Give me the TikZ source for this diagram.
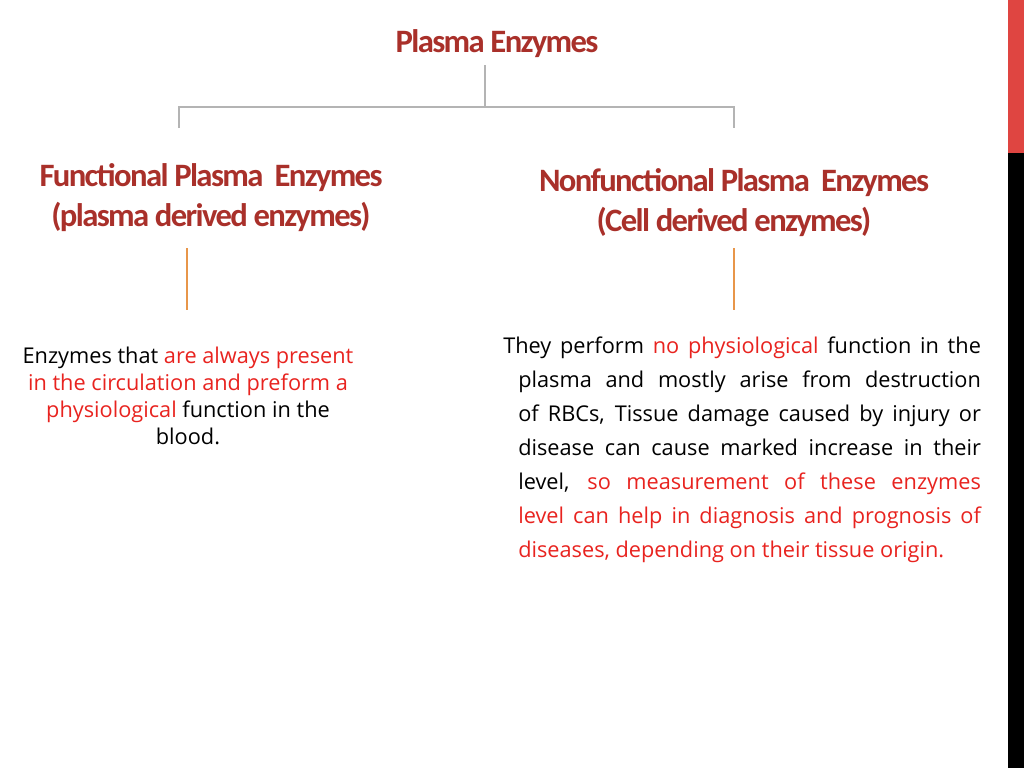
\documentclass[tikz,border=0pt]{standalone}
\usepackage{fontspec}
\setmainfont{Open Sans}
\newfontfamily\headfont[LetterSpace=-5]{Carlito}
\definecolor{hred}{HTML}{A9302A}
\definecolor{tred}{HTML}{E8231F}
\definecolor{lgray}{HTML}{B4B4B4}
\definecolor{orng}{HTML}{E8964A}
\definecolor{barred}{HTML}{DF4541}
\begin{document}
\begin{tikzpicture}[x=0.75pt,y=-0.75pt,
  head/.style={font=\headfont\bfseries\fontsize{24.5}{30}\selectfont,text=hred,align=center,inner sep=0},
  body/.style={font=\fontsize{16.3}{20.3}\selectfont,inner sep=0},
  gline/.style={draw=lgray,line width=1.5pt},
  oline/.style={draw=orng,line width=1.2pt}]
\useasboundingbox (0,0) rectangle (1024,768);
\fill[barred] (1008,0) rectangle (1024,153);
\fill[black] (1008,153) rectangle (1024,768);
\node[head] (top) at (497,44) {Plasma Enzymes};
\node[head] (left) at (211,198) {Functional Plasma\, Enzymes\\(plasma derived enzymes)};
\node[head] (right) at (734,203) {Nonfunctional Plasma\, Enzymes\\(Cell derived enzymes)};
\coordinate (t1) at (485,65);
\coordinate (t2) at (485,107);
\coordinate (hl) at (179,107);
\coordinate (hr) at (734,107);
\coordinate (dl) at (179,128);
\coordinate (dr) at (734,128);
\draw[gline] (t1) -- (t2);
\draw[gline] (dl) -- (hl) -- (hr) -- (dr);
\coordinate (ol1) at (187,248); \coordinate (ol2) at (187,310);
\coordinate (or1) at (734,248); \coordinate (or2) at (734,310);
\draw[oline] (ol1) -- (ol2);
\draw[oline] (or1) -- (or2);
\node[body,align=center,anchor=north] (ltext) at (188,347) {Enzymes that \textcolor{tred}{are always present}\\\textcolor{tred}{in the circulation and preform a}\\\textcolor{tred}{physiological} function in the\\blood.};
\node[body,anchor=north west,text width=347pt,align=justify,font=\fontsize{16.3}{25.5}\selectfont] (rtext) at (518,337) {\hyphenpenalty=10000\hspace*{-11.25pt}They perform \textcolor{tred}{no physiological} function in the\linebreak plasma and mostly arise from destruction\linebreak of RBCs, Tissue damage caused by injury or\linebreak disease can cause marked increase in their\linebreak level, \textcolor{tred}{so measurement of these enzymes\linebreak level can help in diagnosis and prognosis of\linebreak diseases, depending on their tissue origin.}};
\end{tikzpicture}
\end{document}
